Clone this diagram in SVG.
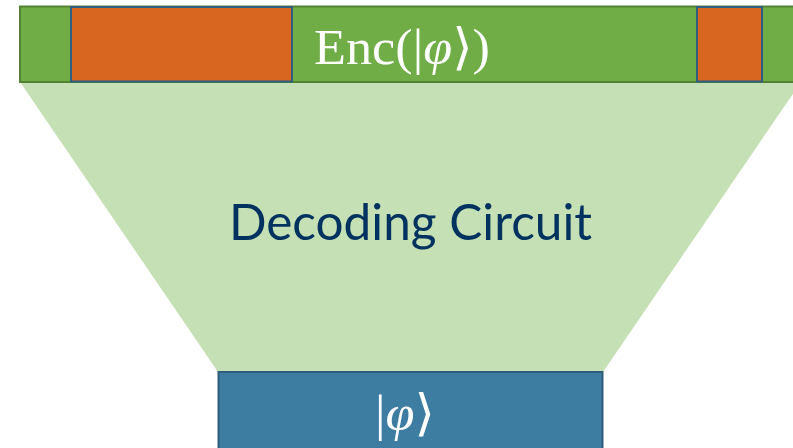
<svg xmlns="http://www.w3.org/2000/svg" width="793" height="448" viewBox="0 0 793 448">
<style>
.orange{fill:#D86520;stroke:#2F5F7F;stroke-width:2}
.math{font-family:"Liberation Serif","DejaVu Serif",serif;fill:#FFFFFF}
</style>
<rect width="793" height="448" fill="#FFFFFF"/>
<g id="funnel">
<polygon points="20,82 801,82 603,372 218,372" fill="#C5E0B4"/>
<text x="410.5" y="240" text-anchor="middle" font-family="Lato,'Open Sans',sans-serif" font-size="49.5" fill="#00325F">Decoding Circuit</text>
</g>
<g id="encoded">
<rect x="20" y="6.5" width="790" height="75.5" fill="#70AD47" stroke="#548235" stroke-width="2"/>
<rect class="orange" x="71" y="7" width="221" height="74.5"/>
<rect class="orange" x="697" y="7" width="65" height="74.5"/>
<text class="math" x="314" y="64" font-size="50" textLength="176" lengthAdjust="spacingAndGlyphs">Enc(|<tspan font-style="italic">φ</tspan>⟩)</text>
</g>
<g id="state">
<rect x="218.5" y="372" width="384" height="80" fill="#3C7DA1" stroke="#2F5C7A" stroke-width="2"/>
<text class="math" x="375" y="430" font-size="50" textLength="60" lengthAdjust="spacingAndGlyphs">|<tspan font-style="italic">φ</tspan>⟩</text>
</g>
<g id="connectors"/>
</svg>
